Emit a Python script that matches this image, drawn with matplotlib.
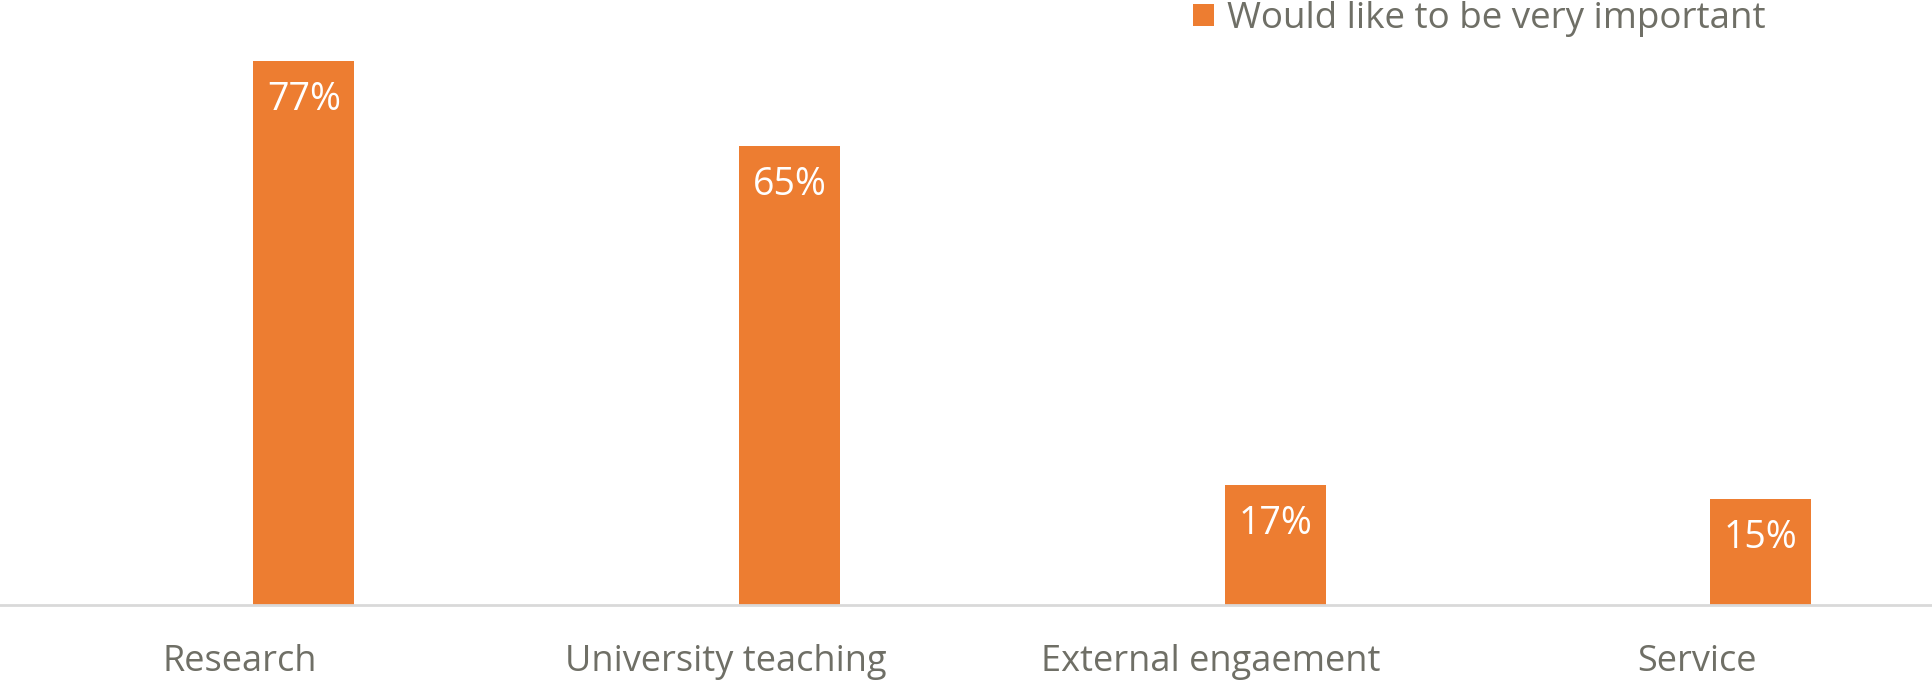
import numpy as np
import matplotlib.pyplot as plt
from matplotlib.patches import Patch

# data
categories = ["Research", "University teaching", "External engaement", "Service"]
values = [77, 65, 17, 15]
series_name = "Would like to be very important"

orange = "#ED7D31"
grey_text = "#6F6F66"

plt.rcParams["font.family"] = ["Open Sans", "DejaVu Sans"]

fig = plt.figure(figsize=(19.33, 6.8), dpi=100)
ax = fig.add_axes([0, 75 / 680, 1, 605 / 680])

x = np.arange(len(categories))
# bar sits right of the category centre (clustered layout, one series shown)
bars = ax.bar(x + 0.132, values, width=0.208, color=orange)

# value labels inside bars, near the top
for b, v in zip(bars, values):
    ax.annotate(f"{v}%", (b.get_x() + b.get_width() / 2, v),
                xytext=(0, -39), textcoords="offset pixels",
                ha="center", va="center", color="white", fontsize=27)

ax.set_xlim(-0.494, 3.487)
ax.set_ylim(0, 85.7)
ax.set_xticks(x)
ax.set_xticklabels(categories, fontsize=26, color=grey_text)
ax.tick_params(axis="x", length=0, pad=28)
ax.set_yticks([])
for s in ["top", "left", "right"]:
    ax.spines[s].set_visible(False)
ax.spines["bottom"].set_color("#D9D9D9")
ax.spines["bottom"].set_linewidth(2)

handle = Patch(facecolor=orange, edgecolor="none")
fig.legend([handle], [series_name], loc="upper left",
           bbox_to_anchor=(1175 / 1933, 1.025), frameon=False,
           fontsize=26.5, labelcolor=grey_text, handlelength=0.55,
           handleheight=0.55, handletextpad=0.35, borderpad=0)

fig.savefig("out.png", dpi=100)
